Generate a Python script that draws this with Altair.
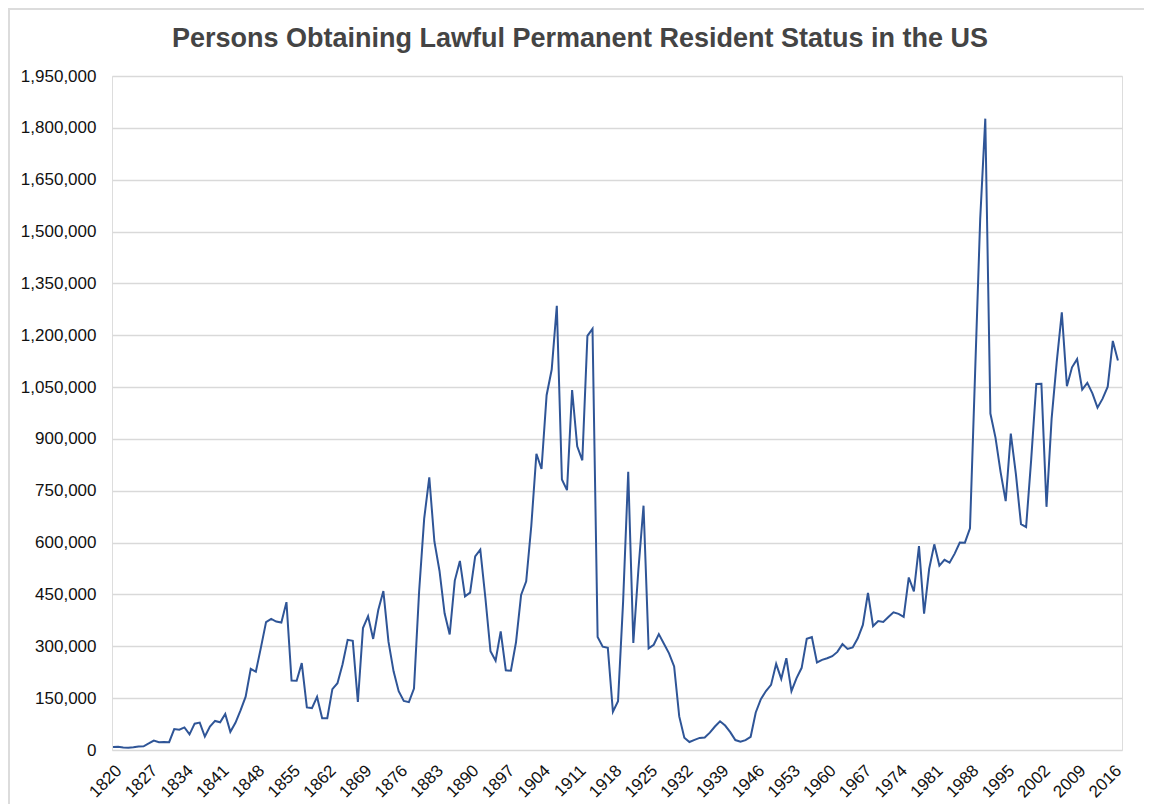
import altair as alt
import pandas as pd

years = list(range(1820, 2018))
persons = [
    8385, 9127, 6911, 6354, 7912, 10199, 10837, 18875, 27382, 22520,
    23322, 22633, 60482, 58640, 65365, 45374, 76242, 79340, 38914, 68069,
    84066, 80289, 104565, 52496, 78615, 114371, 154416, 234968, 226527, 297024,
    369980, 379466, 371603, 368645, 427833, 200877, 200436, 251306, 123126, 121282,
    153640, 91918, 91985, 176282, 193418, 248120, 318568, 315722, 138840, 352768,
    387203, 321350, 404806, 459803, 313339, 227498, 169986, 141857, 138469, 177826,
    457257, 669431, 788992, 603322, 518592, 395346, 334203, 490109, 546889, 444427,
    455302, 560319, 579663, 439730, 285631, 258536, 343267, 230832, 229299, 311715,
    448572, 487918, 648743, 857046, 812870, 1026499, 1100735, 1285349, 782870, 751786,
    1041570, 878587, 838172, 1197892, 1218480, 326700, 298826, 295403, 110618, 141132,
    430001, 805228, 309556, 522919, 706896, 294314, 304488, 335175, 307255, 279678,
    241700, 97139, 35576, 23068, 29470, 34956, 36329, 50244, 67895, 82998,
    70756, 51776, 28781, 23725, 28551, 38119, 108721, 147292, 170570, 188317,
    249187, 205717, 265520, 170434, 208177, 237790, 321625, 326867, 253265, 260686,
    265398, 271344, 283763, 306260, 292248, 296697, 323040, 361972, 454448, 358579,
    373326, 370478, 384685, 398515, 393919, 385378, 499093, 458755, 589810, 394244,
    524295, 595014, 533624, 550052, 541811, 568149, 600027, 599889, 641346, 1090172,
    1535872, 1826595, 973445, 903916, 803993, 720177, 915560, 797847, 653206, 644787,
    841002, 1058902, 1059356, 703542, 957883, 1122257, 1266129, 1052415, 1107126, 1130818,
    1042625, 1062040, 1031631, 990553, 1016518, 1051031, 1183505, 1127167,
]
x_ticks = list(range(1820, 2017, 7))
y_ticks = list(range(0, 1950001, 150000))

df = pd.DataFrame({"year": years, "persons": persons})

W, H = 1010, 674
FONT = "Liberation Sans"

line = alt.Chart(df).mark_line(color="#2f5597", strokeWidth=2).encode(
    x=alt.X(
        "year:Q",
        scale=alt.Scale(domain=[1819.8, 2017.8], nice=False, zero=False),
        axis=alt.Axis(
            values=x_ticks, format="d", title=None, grid=False, domain=False,
            ticks=False, labelAngle=-45, labelAlign="right", labelBaseline="top",
            labelPadding=12, labelFontSize=17, labelColor="#111", labelFont=FONT,
            labelOverlap=False,
        ),
    ),
    y=alt.Y(
        "persons:Q",
        scale=alt.Scale(domain=[0, 1950000], nice=False),
        axis=alt.Axis(
            values=y_ticks, format=",.0f", title=None, domain=False, ticks=False,
            gridColor="#d9d9d9", gridWidth=1.5, labelPadding=16, labelFontSize=17,
            labelColor="#111", labelFont=FONT,
        ),
    ),
)

frame_top = alt.Chart(df).mark_rule(color="#dcdcdc", strokeWidth=2).encode(
    x=alt.value(-104), x2=alt.value(1032), y=alt.value(-67)
)
frame_left = alt.Chart(df).mark_rule(color="#dcdcdc", strokeWidth=2).encode(
    x=alt.value(-103), y=alt.value(-68), y2=alt.value(740)
)

chart = alt.layer(frame_top, frame_left, line).properties(
    width=W,
    height=H,
    title=alt.TitleParams(
        "Persons Obtaining Lawful Permanent Resident Status in the US",
        fontSize=27, font=FONT, fontWeight="bold", color="#444444",
        anchor="middle", dx=-37, offset=-46, frame="group",
    ),
    autosize=alt.AutoSizeParams(type="none"),
    padding={"left": 104, "top": 68, "right": 22, "bottom": 54},
).configure_view(stroke=None).configure(background="white")

chart.save("out.html", embed_options={"renderer": "svg", "actions": False})
